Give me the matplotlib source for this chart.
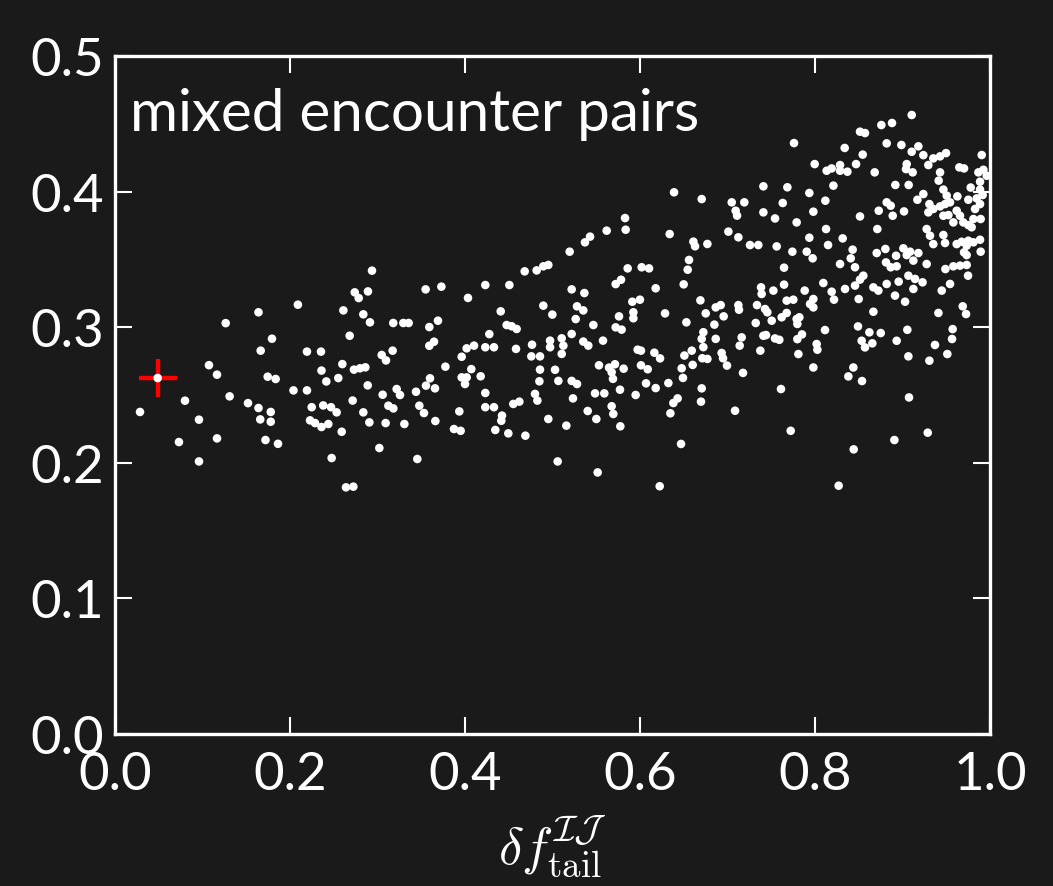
import numpy as np
import matplotlib
matplotlib.use("Agg")
import matplotlib.pyplot as plt

# highlighted pair (red cross)
hl_x = [0.0488]
hl_y = [0.2625]

# points, grouped by x range: (delta f_tail, y)
pts_low = [
    (0.0286, 0.2375), (0.0488, 0.2625), (0.0731, 0.2153), (0.0800, 0.2458), (0.0960, 0.2318),
    (0.0960, 0.2010), (0.1074, 0.2720), (0.1166, 0.2650), (0.1166, 0.2180), (0.1265, 0.3030),
    (0.1310, 0.2490), (0.1520, 0.2440), (0.1640, 0.3110), (0.1665, 0.2827), (0.1640, 0.2404),
    (0.1660, 0.2320), (0.1720, 0.2168), (0.1745, 0.2635), (0.1836, 0.2618), (0.1794, 0.2915),
    (0.1780, 0.2375), (0.1780, 0.2303), (0.1863, 0.2140), (0.2090, 0.3166), (0.2040, 0.2534),
    (0.2194, 0.2820), (0.2194, 0.2534), (0.2354, 0.2820), (0.2360, 0.2680), (0.2415, 0.2600),
    (0.2248, 0.2410), (0.2380, 0.2423), (0.2469, 0.2410), (0.2229, 0.2313), (0.2286, 0.2293),
    (0.2360, 0.2264), (0.2438, 0.2286), (0.2476, 0.2035),
]

pts_mid1 = [
    (0.2937, 0.3417), (0.2740, 0.3257), (0.2785, 0.3215), (0.2891, 0.3264), (0.2610, 0.3124),
    (0.2838, 0.3095), (0.2914, 0.3036), (0.2682, 0.2937), (0.3180, 0.3031), (0.3295, 0.3031),
    (0.3356, 0.3031), (0.3550, 0.3279), (0.3730, 0.3299), (0.3592, 0.3001), (0.3691, 0.3048),
    (0.3592, 0.2863), (0.3646, 0.2893), (0.3048, 0.2795), (0.3097, 0.2755), (0.3173, 0.2827),
    (0.2598, 0.2728), (0.2731, 0.2687), (0.2800, 0.2697), (0.2861, 0.2704), (0.2552, 0.2625),
    (0.2888, 0.2571), (0.2716, 0.2459), (0.2533, 0.2372), (0.2591, 0.2229), (0.2640, 0.1819),
    (0.2724, 0.1824), (0.2838, 0.2372), (0.2907, 0.2298), (0.3021, 0.2109), (0.3059, 0.2502),
    (0.3093, 0.2293), (0.3124, 0.2421), (0.3181, 0.2401), (0.3219, 0.2544), (0.3257, 0.2500),
    (0.3307, 0.2286), (0.3440, 0.2524), (0.3455, 0.2028), (0.3478, 0.2421), (0.3531, 0.2367),
    (0.3554, 0.2569), (0.3600, 0.2623), (0.3657, 0.2549), (0.3661, 0.2308), (0.3776, 0.2709),
    (0.3874, 0.2249), (0.3950, 0.2236), (0.3935, 0.2379), (0.3962, 0.2630), (0.4019, 0.2630),
    (0.4000, 0.2581), (0.4072, 0.2691), (0.3962, 0.2782), (0.4019, 0.2844), (0.4103, 0.2864),
    (0.4034, 0.3216), (0.4179, 0.2638), (0.4232, 0.3311), (0.4232, 0.2852), (0.4331, 0.2852),
    (0.4278, 0.2949), (0.4232, 0.2515), (0.4232, 0.2410), (0.4331, 0.2410), (0.4408, 0.3117),
    (0.4423, 0.2348), (0.4415, 0.2310), (0.4346, 0.2242), (0.4495, 0.2217), (0.4507, 0.3311),
    (0.4476, 0.3016), (0.4533, 0.3007), (0.4590, 0.2987), (0.4583, 0.2840), (0.4552, 0.2434),
    (0.4621, 0.2451), (0.4690, 0.2200), (0.4682, 0.3412), (0.4819, 0.3419), (0.4895, 0.3449),
    (0.4952, 0.3459), (0.4895, 0.3159), (0.4766, 0.2871), (0.4758, 0.2785), (0.4857, 0.2785),
    (0.4857, 0.2687), (0.4850, 0.2601), (0.4800, 0.2508), (0.4827, 0.2459), (0.4952, 0.2323),
]

pts_mid2 = [
    (0.6705, 0.3945), (0.7048, 0.3921), (0.7192, 0.3921), (0.7093, 0.3859), (0.7109, 0.3823),
    (0.7410, 0.3847), (0.5829, 0.3805), (0.5836, 0.3719), (0.5619, 0.3712), (0.5371, 0.3626),
    (0.5429, 0.3668), (0.5196, 0.3557), (0.6339, 0.3687), (0.6610, 0.3631), (0.6629, 0.3597),
    (0.6770, 0.3614), (0.7010, 0.3705), (0.7124, 0.3663), (0.7257, 0.3606), (0.7352, 0.3606),
    (0.6560, 0.3496), (0.6545, 0.3424), (0.6499, 0.3316), (0.5859, 0.3434), (0.6019, 0.3442),
    (0.6103, 0.3434), (0.5722, 0.3318), (0.5783, 0.3350), (0.6179, 0.3287), (0.5219, 0.3279),
    (0.5364, 0.3252), (0.4998, 0.3093), (0.5280, 0.3154), (0.5352, 0.3124), (0.5265, 0.3060),
    (0.5467, 0.3016), (0.5760, 0.3080), (0.5912, 0.3188), (0.5999, 0.3203), (0.5924, 0.3110),
    (0.5924, 0.3066), (0.5722, 0.2999), (0.5790, 0.2982), (0.6286, 0.3102), (0.6530, 0.3036),
    (0.6690, 0.3198), (0.6751, 0.3102), (0.6865, 0.3146), (0.6922, 0.3163), (0.6956, 0.3080),
    (0.6850, 0.3019), (0.7124, 0.3163), (0.7131, 0.3129), (0.7337, 0.3163), (0.7383, 0.3294),
    (0.7390, 0.3245), (0.7322, 0.3031), (0.7410, 0.2937), (0.7162, 0.2925), (0.7139, 0.2864),
    (0.7375, 0.2827), (0.6724, 0.2963), (0.6705, 0.2914), (0.6724, 0.2853), (0.6865, 0.2914),
    (0.6591, 0.2827), (0.6507, 0.2791), (0.6712, 0.2771), (0.6770, 0.2766), (0.6602, 0.2722),
    (0.6476, 0.2697), (0.6491, 0.2626), (0.6933, 0.2810), (0.6949, 0.2771), (0.6994, 0.2717),
    (0.7177, 0.2663), (0.6705, 0.2549), (0.6697, 0.2451), (0.6430, 0.2475), (0.6381, 0.2441),
    (0.6347, 0.2365), (0.7086, 0.2384), (0.6469, 0.2139), (0.6225, 0.1827), (0.5516, 0.1929),
    (0.5059, 0.2010), (0.5158, 0.2274), (0.5775, 0.2269), (0.5501, 0.2323), (0.5402, 0.2382),
    (0.5676, 0.2417), (0.5695, 0.2360), (0.5234, 0.2475), (0.5486, 0.2512), (0.5592, 0.2512),
    (0.5771, 0.2539), (0.5950, 0.2500), (0.6069, 0.2586), (0.6179, 0.2551), (0.6324, 0.2588),
    (0.5067, 0.2604), (0.5219, 0.2604), (0.5280, 0.2581), (0.5029, 0.2686), (0.5531, 0.2719),
    (0.5646, 0.2702), (0.5714, 0.2727), (0.5676, 0.2668), (0.5691, 0.2619), (0.5813, 0.2694),
    (0.6011, 0.2719), (0.6088, 0.2690), (0.5973, 0.2834), (0.6011, 0.2827), (0.6164, 0.2812),
    (0.6229, 0.2770), (0.5577, 0.2901), (0.5352, 0.2894), (0.5409, 0.2864), (0.5219, 0.2950),
    (0.5105, 0.2918), (0.5124, 0.2864), (0.5105, 0.2803), (0.4972, 0.2901), (0.4972, 0.2852),
    (0.6389, 0.3995),
]

pts_high_top = [
    (0.9105, 0.4565), (0.8758, 0.4491), (0.8880, 0.4506), (0.8514, 0.4442), (0.8571, 0.4432),
    (0.7760, 0.4358), (0.8819, 0.4356), (0.8987, 0.4344), (0.8339, 0.4322), (0.8545, 0.4273),
    (0.9105, 0.4294), (0.9181, 0.4334), (0.9238, 0.4269), (0.9352, 0.4245), (0.9429, 0.4260),
    (0.9497, 0.4284), (0.9905, 0.4270), (0.7996, 0.4203), (0.8133, 0.4154), (0.8190, 0.4171),
    (0.8286, 0.4196), (0.8286, 0.4154), (0.8370, 0.4147), (0.8469, 0.4203), (0.8682, 0.4142),
    (0.9048, 0.4203), (0.9040, 0.4166), (0.9116, 0.4142), (0.9295, 0.4196), (0.9429, 0.4142),
    (0.9413, 0.4081), (0.9649, 0.4179), (0.9703, 0.4171), (0.9867, 0.4142), (0.9924, 0.4161),
    (0.9962, 0.4117), (0.9886, 0.4073), (0.7410, 0.4039), (0.7684, 0.4032), (0.7935, 0.3990),
    (0.8210, 0.4044), (0.8918, 0.4049), (0.9070, 0.4049), (0.9779, 0.4030), (0.9467, 0.4015),
    (0.9505, 0.3970), (0.9886, 0.4015), (0.9916, 0.3975), (0.7631, 0.3916), (0.8118, 0.3933),
    (0.9170, 0.3940), (0.9238, 0.3982), (0.9307, 0.3908), (0.9429, 0.3891), (0.9486, 0.3908),
    (0.9543, 0.3921), (0.9627, 0.3965), (0.9752, 0.3940), (0.9848, 0.3950), (0.9886, 0.3908),
    (0.9829, 0.3872), (0.7543, 0.3802), (0.7790, 0.3773), (0.7981, 0.3852), (0.8514, 0.3817),
    (0.8728, 0.3859), (0.8819, 0.3921), (0.8865, 0.3896), (0.8888, 0.3822), (0.9017, 0.3854),
    (0.9295, 0.3847), (0.9352, 0.3872), (0.9467, 0.3822), (0.9524, 0.3827), (0.9581, 0.3773),
    (0.9619, 0.3859), (0.9657, 0.3822), (0.9695, 0.3773), (0.9752, 0.3753), (0.9810, 0.3798),
    (0.9893, 0.3798), (0.9790, 0.3737),
]

pts_high_mid = [
    (0.8126, 0.3724), (0.8712, 0.3724), (0.9276, 0.3724), (0.9314, 0.3675), (0.9352, 0.3613),
    (0.9467, 0.3680), (0.9486, 0.3621), (0.7935, 0.3660), (0.8316, 0.3655), (0.9619, 0.3613),
    (0.9676, 0.3630), (0.9733, 0.3601), (0.9752, 0.3638), (0.9810, 0.3626), (0.9886, 0.3645),
    (0.9703, 0.3552), (0.9733, 0.3532), (0.7562, 0.3596), (0.7741, 0.3557), (0.7905, 0.3557),
    (0.7973, 0.3508), (0.8149, 0.3606), (0.8430, 0.3572), (0.8408, 0.3508), (0.8457, 0.3442),
    (0.8705, 0.3547), (0.8804, 0.3577), (0.9010, 0.3582), (0.9048, 0.3532), (0.8926, 0.3527),
    (0.9086, 0.3557), (0.9124, 0.3491), (0.9181, 0.3547), (0.9893, 0.3557), (0.7646, 0.3439),
    (0.8286, 0.3466), (0.8811, 0.3478), (0.8865, 0.3442), (0.8933, 0.3449), (0.9276, 0.3466),
    (0.9490, 0.3429), (0.9581, 0.3449), (0.9657, 0.3454), (0.9733, 0.3459), (0.9749, 0.3380),
    (0.8552, 0.3380), (0.8514, 0.3351), (0.8457, 0.3307), (0.8095, 0.3326), (0.7646, 0.3314),
    (0.7524, 0.3270), (0.7882, 0.3270), (0.8190, 0.3262), (0.8343, 0.3282), (0.8667, 0.3294),
    (0.8724, 0.3270), (0.8819, 0.3319), (0.8956, 0.3336), (0.9067, 0.3380), (0.9143, 0.3356),
    (0.9229, 0.3331), (0.9124, 0.3282), (0.9543, 0.3319), (0.9448, 0.3270), (0.7676, 0.3196),
    (0.7752, 0.3203), (0.7981, 0.3208), (0.7943, 0.3171), (0.8217, 0.3203), (0.8499, 0.3208),
    (0.8914, 0.3233), (0.9029, 0.3188), (0.9688, 0.3154),
]

pts_high_low = [
    (0.7429, 0.3134), (0.7455, 0.3110), (0.7505, 0.3048), (0.7619, 0.3073), (0.7676, 0.3105),
    (0.7790, 0.3060), (0.7821, 0.3073), (0.7798, 0.3024), (0.7981, 0.3146), (0.8667, 0.3114),
    (0.9410, 0.3105), (0.9726, 0.3097), (0.7440, 0.2942), (0.7543, 0.2917), (0.7592, 0.2907),
    (0.7798, 0.2912), (0.7851, 0.2947), (0.8114, 0.2979), (0.7810, 0.2802), (0.8019, 0.2876),
    (0.8027, 0.2834), (0.7981, 0.2703), (0.8491, 0.3006), (0.8621, 0.2962), (0.8751, 0.2957),
    (0.8533, 0.2900), (0.8571, 0.2851), (0.8655, 0.2881), (0.9055, 0.2981), (0.8933, 0.2900),
    (0.9573, 0.2986), (0.9566, 0.2913), (0.9371, 0.2869), (0.9067, 0.2785), (0.9307, 0.2753),
    (0.9512, 0.2802), (0.8438, 0.2703), (0.8381, 0.2637), (0.8537, 0.2603), (0.7611, 0.2544),
    (0.9074, 0.2482), (0.7722, 0.2236), (0.8442, 0.2099), (0.8907, 0.2168), (0.9288, 0.2222),
    (0.8270, 0.1831),
]

x_ticks = [0.0, 0.2, 0.4, 0.6, 0.8, 1.0]
y_ticks = [0.0, 0.1, 0.2, 0.3, 0.4, 0.5]

all_pts = np.array(pts_low + pts_mid1 + pts_mid2 + pts_high_top + pts_high_mid + pts_high_low)

bg = "#1a1a1a"
plt.rcParams["mathtext.fontset"] = "cm"
plt.rcParams["font.family"] = ["Lato", "DejaVu Sans"]

fig = plt.figure(figsize=(10.53, 8.87), dpi=100, facecolor=bg)
ax = fig.add_axes([0.1092, 0.1714, 0.831, 0.7643], facecolor=bg)

ax.plot(hl_x, hl_y, marker="+", color="red", markersize=28, markeredgewidth=3.2,
        linestyle="none", zorder=2)
ax.scatter(all_pts[:, 0], all_pts[:, 1], s=38, c="white", edgecolors="none", zorder=3)

ax.set_xlim(0, 1)
ax.set_ylim(0, 0.5)
ax.set_xticks(x_ticks)
ax.set_yticks(y_ticks)
ax.set_xticklabels([f"{v:.1f}" for v in x_ticks])
ax.set_yticklabels([f"{v:.1f}" for v in y_ticks])
ax.tick_params(direction="in", length=12, width=1.5, colors="white", labelsize=38,
               top=True, right=True, pad=8)
ax.tick_params(axis="x", pad=12)
for sp in ax.spines.values():
    sp.set_color("white")
    sp.set_linewidth(2.4)

ax.text(0.017, 0.955, "mixed encounter pairs", transform=ax.transAxes, color="white",
        fontsize=42, va="top", ha="left")
ax.set_xlabel(r"$\delta f_{\rm tail}^{\mathcal{IJ}}$", color="white", fontsize=38, labelpad=11)

fig.savefig("out.png", dpi=100, facecolor=bg)
